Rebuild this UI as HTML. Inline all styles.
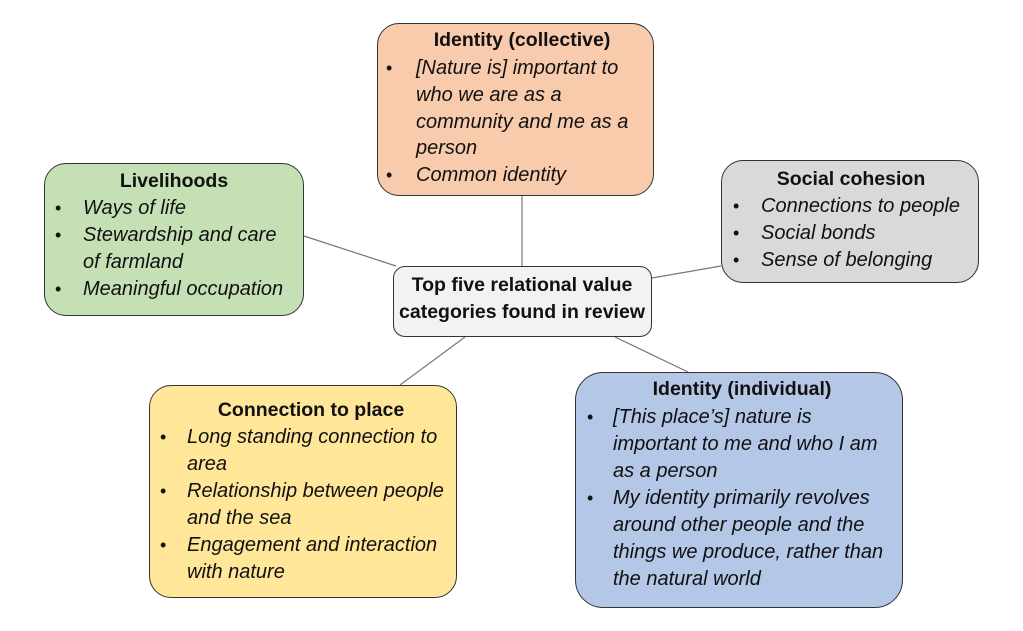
<!DOCTYPE html>
<html><head><meta charset="utf-8"><style>
body{margin:0;width:1023px;height:631px;background:#fff;position:relative;overflow:hidden;font-family:"Liberation Sans",sans-serif;color:#111}
.b{position:absolute;border:1.5px solid #333;border-radius:22px;box-sizing:border-box}
.t{position:absolute;white-space:nowrap;font-size:20px;line-height:27px;font-style:italic}
.h{position:absolute;white-space:nowrap;font-size:19.5px;line-height:27px;font-weight:bold;text-align:center;transform:translateX(-50%)}
.d{position:absolute;font-size:18px;line-height:27px}
svg{position:absolute;left:0;top:0}
</style></head><body>
<svg width="1023" height="631"><g stroke="#777" stroke-width="1.2">
<line x1="522" y1="195" x2="522" y2="266"/>
<line x1="304" y1="236" x2="396" y2="266"/>
<line x1="721" y1="266" x2="652" y2="278"/>
<line x1="465" y1="337" x2="400" y2="385"/>
<line x1="615" y1="337" x2="688" y2="372"/>
</g></svg>

<div class="b" style="left:377px;top:23px;width:277px;height:173px;background:#f8cbad"></div>
<div class="b" style="left:44px;top:163px;width:260px;height:153px;background:#c5e0b4"></div>
<div class="b" style="left:721px;top:160px;width:258px;height:123px;background:#d9d9d9"></div>
<div class="b" style="left:393px;top:266px;width:259px;height:71px;background:#f2f2f2;border-radius:12px"></div>
<div class="b" style="left:149px;top:385px;width:308px;height:213px;background:#ffe699"></div>
<div class="b" style="left:575px;top:372px;width:328px;height:236px;background:#b4c7e7;border-radius:28px"></div>

<div class="h" style="left:522px;top:27px">Identity (collective)</div>
<div class="d" style="left:386px;top:55px">•</div><div class="t" style="left:416px;top:55px">[Nature is] important to</div>
<div class="t" style="left:416px;top:82px">who we are as a</div>
<div class="t" style="left:416px;top:109px">community and me as a</div>
<div class="t" style="left:416px;top:135px">person</div>
<div class="d" style="left:386px;top:162px">•</div><div class="t" style="left:416px;top:162px">Common identity</div>

<div class="h" style="left:174px;top:168px">Livelihoods</div>
<div class="d" style="left:55px;top:195px">•</div><div class="t" style="left:83px;top:195px">Ways of life</div>
<div class="d" style="left:55px;top:222px">•</div><div class="t" style="left:83px;top:222px">Stewardship and care</div>
<div class="t" style="left:83px;top:249px">of farmland</div>
<div class="d" style="left:55px;top:276px">•</div><div class="t" style="left:83px;top:276px">Meaningful occupation</div>

<div class="h" style="left:851px;top:166px">Social cohesion</div>
<div class="d" style="left:733px;top:193px">•</div><div class="t" style="left:761px;top:193px">Connections to people</div>
<div class="d" style="left:733px;top:220px">•</div><div class="t" style="left:761px;top:220px">Social bonds</div>
<div class="d" style="left:733px;top:247px">•</div><div class="t" style="left:761px;top:247px">Sense of belonging</div>

<div class="h" style="left:522px;top:272px">Top five relational value</div>
<div class="h" style="left:522px;top:299px">categories found in review</div>

<div class="h" style="left:311px;top:397px">Connection to place</div>
<div class="d" style="left:160px;top:424px">•</div><div class="t" style="left:187px;top:424px">Long standing connection to</div>
<div class="t" style="left:187px;top:451px">area</div>
<div class="d" style="left:160px;top:478px">•</div><div class="t" style="left:187px;top:478px">Relationship between people</div>
<div class="t" style="left:187px;top:505px">and the sea</div>
<div class="d" style="left:160px;top:532px">•</div><div class="t" style="left:187px;top:532px">Engagement and interaction</div>
<div class="t" style="left:187px;top:559px">with nature</div>

<div class="h" style="left:742px;top:376px">Identity (individual)</div>
<div class="d" style="left:587px;top:404px">•</div><div class="t" style="left:613px;top:404px">[This place’s] nature is</div>
<div class="t" style="left:613px;top:431px">important to me and who I am</div>
<div class="t" style="left:613px;top:458px">as a person</div>
<div class="d" style="left:587px;top:485px">•</div><div class="t" style="left:613px;top:485px">My identity primarily revolves</div>
<div class="t" style="left:613px;top:512px">around other people and the</div>
<div class="t" style="left:613px;top:539px">things we produce, rather than</div>
<div class="t" style="left:613px;top:566px">the natural world</div>
</body></html>
